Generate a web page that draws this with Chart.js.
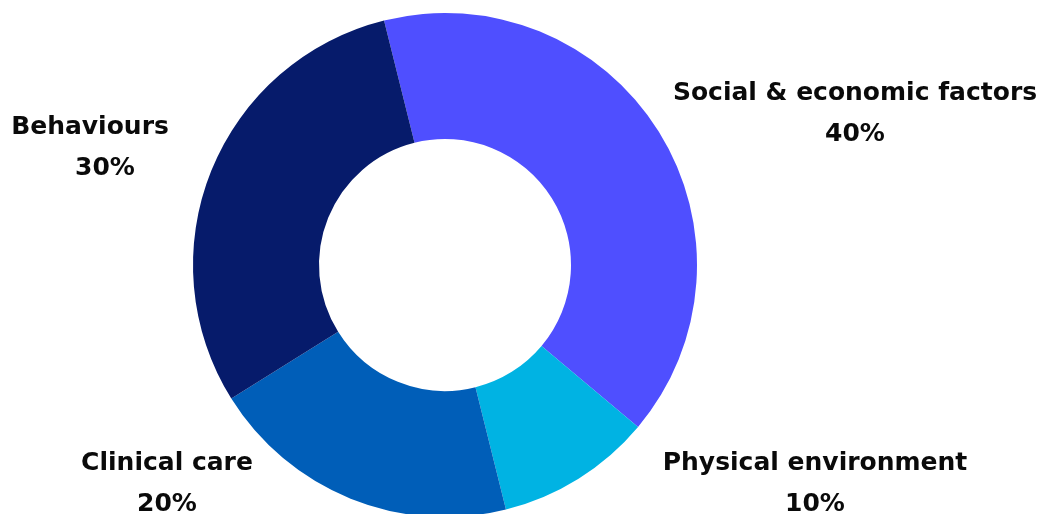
<!DOCTYPE html>
<html>
<head>
<meta charset="utf-8">
<script src="https://cdn.jsdelivr.net/npm/chart.js@4"></script>
<style>
  html, body { margin: 0; padding: 0; background: #fff; overflow: hidden; }
  #wrap { width: 1043px; height: 530px; }
</style>
</head>
<body>
<div id="wrap"><canvas id="myChart"></canvas></div>
<script>
const categories = ['Social & economic factors', 'Physical environment', 'Clinical care', 'Behaviours'];
const shares = [40, 10, 20, 30];
const colours = ['#4f4fff', '#00b3e3', '#005eb8', '#061b6b'];

// label anchor (centre x, middle of first line) per slice
const labelSpots = [[855, 93], [815, 463], [167, 463], [90, 127]];

const sliceLabels = {
	id: 'sliceLabels',
	afterDraw(chart) {
		const c = chart.ctx;
		c.save();
		c.fillStyle = '#0a0a0a';
		c.textAlign = 'center';
		c.textBaseline = 'middle';
		c.font = 'bold 25px "DejaVu Sans"';
		categories.forEach((name, i) => {
			const [x, y] = labelSpots[i];
			c.fillText(name, x, y);
			const dx = (i === 3) ? 15 : 0;
			c.fillText(shares[i] + '%', x + dx, y + 41);
		});
		c.restore();
	}
};

const ctx = document.getElementById('myChart');
new Chart(ctx, {
	type: 'doughnut',
	data: {
		labels: categories,
		datasets: [{
			data: shares,
			backgroundColor: colours,
			borderWidth: 0
		}]
	},
	options: {
		responsive: true,
		maintainAspectRatio: false,
		animation: false,
		cutout: '50%',
		rotation: -14,
		layout: {
			padding: { left: 193, right: 346, top: 13, bottom: 13 }
		},
		plugins: {
			legend: { display: false },
			tooltip: { enabled: false }
		}
	},
	plugins: [sliceLabels]
});
</script>
</body>
</html>
